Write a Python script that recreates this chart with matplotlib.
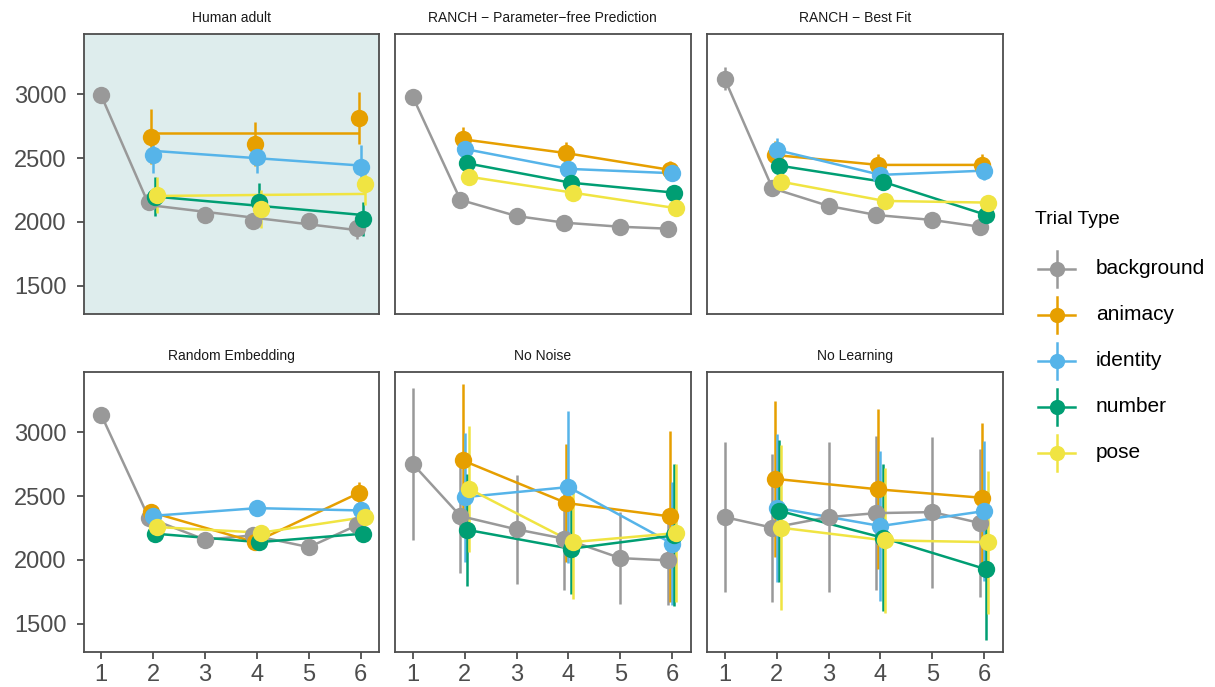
import matplotlib
matplotlib.use("Agg")
import matplotlib.pyplot as plt
import numpy as np

plt.rcParams['font.family'] = ['Liberation Sans', 'DejaVu Sans']

W, H = 1215, 687

# ---------------- data ----------------
panel_titles = ["Human adult", "RANCH \u2212 Parameter\u2212free Prediction", "RANCH \u2212 Best Fit",
                "Random Embedding", "No Noise", "No Learning"]
trial_types = ["background", "animacy", "identity", "number", "pose"]
colors = ["#999999", "#E69F00", "#56B4E9", "#009E73", "#F0E442"]
x_background = [1, 2, 3, 4, 5, 6]
x_events = [2, 4, 6]
x_ticks = [1, 2, 3, 4, 5, 6]
y_ticks = [1500, 2000, 2500, 3000]

human_mean = {
    "background": [2990, 2158, 2054, 2004, 2008, 1950],
    "animacy": [2668, 2610, 2812],
    "identity": [2524, 2511, 2433],
    "number": [2198, 2154, 2023],
    "pose": [2211, 2101, 2295],
}
human_err = {
    "background": [40, 50, 35, 45, 40, 86],
    "animacy": [215, 170, 205],
    "identity": [143, 130, 165],
    "number": [150, 153, 131],
    "pose": [140, 150, 163],
}
# model-fit lines drawn in the human panel
human_fit_x_background = [1, 2, 6]
human_fit_x_events = [2, 6]
human_fit = {
    "background": [2990, 2132, 1936],
    "animacy": [2694, 2694],
    "identity": [2556, 2441],
    "number": [2198, 2054],
    "pose": [2203, 2219],
}

ranch_pf_mean = {
    "background": [2981, 2172, 2046, 1994, 1962, 1947],
    "animacy": [2647, 2538, 2407],
    "identity": [2571, 2415, 2381],
    "number": [2459, 2307, 2229],
    "pose": [2354, 2229, 2107],
}
ranch_pf_err = {
    "background": [30, 30, 30, 30, 30, 30],
    "animacy": [95, 90, 70],
    "identity": [50, 45, 45],
    "number": [40, 40, 40],
    "pose": [40, 40, 40],
}

ranch_bf_mean = {
    "background": [3120, 2263, 2125, 2054, 2015, 1962],
    "animacy": [2524, 2446, 2446],
    "identity": [2563, 2368, 2401],
    "number": [2441, 2315, 2054],
    "pose": [2315, 2164, 2151],
}
ranch_bf_err = {
    "background": [90, 35, 30, 30, 30, 30],
    "animacy": [110, 85, 85],
    "identity": [90, 50, 70],
    "number": [40, 40, 40],
    "pose": [40, 40, 40],
}

random_mean = {
    "background": [3136, 2327, 2158, 2192, 2100, 2270],
    "animacy": [2374, 2139, 2523],
    "identity": [2345, 2405, 2387],
    "number": [2205, 2139, 2205],
    "pose": [2257, 2213, 2335],
}
random_err = {
    "background": [60, 40, 30, 30, 30, 40],
    "animacy": [40, 40, 85],
    "identity": [30, 30, 30],
    "number": [30, 30, 30],
    "pose": [30, 30, 30],
}

nonoise_mean = {
    "background": [2752, 2343, 2239, 2166, 2014, 1996],
    "animacy": [2779, 2445, 2340],
    "identity": [2491, 2570, 2127],
    "number": [2236, 2087, 2192],
    "pose": [2557, 2139, 2210],
}
nonoise_err = {
    "background": [597, 445, 425, 405, 360, 350],
    "animacy": [597, 465, 670],
    "identity": [505, 595, 480],
    "number": [437, 350, 555],
    "pose": [492, 445, 543],
}

nolearn_mean = {
    "background": [2335, 2252, 2335, 2366, 2374, 2288],
    "animacy": [2635, 2552, 2486],
    "identity": [2408, 2265, 2382],
    "number": [2385, 2174, 1926],
    "pose": [2252, 2153, 2139],
}
nolearn_err = {
    "background": [590, 580, 590, 600, 590, 580],
    "animacy": [610, 625, 585],
    "identity": [577, 585, 550],
    "number": [555, 575, 550],
    "pose": [645, 570, 560],
}

panel_means = [human_mean, ranch_pf_mean, ranch_bf_mean, random_mean, nonoise_mean, nolearn_mean]
panel_errs = [human_err, ranch_pf_err, ranch_bf_err, random_err, nonoise_err, nolearn_err]

# ---------------- layout ----------------
fig = plt.figure(figsize=(W / 100, H / 100), dpi=100)

col_left = [83.5, 395, 707]
col_width = 295.5
row_top = [34.3, 372.3]
row_height = 280

dodge_width = 0.2
n_groups = len(trial_types)
offsets = {t: (i - (n_groups - 1) / 2) * dodge_width / n_groups for i, t in enumerate(trial_types)}
single_x = {1, 3, 5}


def dodged(xs, t):
    return [x if (t == "background" and x in single_x) else x + offsets[t] for x in xs]


axes = []
for k in range(6):
    r, c = divmod(k, 3)
    left = col_left[c] / W
    bottom = 1 - (row_top[r] + row_height) / H
    ax = fig.add_axes([left, bottom, col_width / W, row_height / H])
    axes.append(ax)

LW = 1.8
for k, ax in enumerate(axes):
    r, c = divmod(k, 3)
    means = panel_means[k]
    errs = panel_errs[k]
    if k == 0:
        ax.set_facecolor("#DEEDED")
    # error bars
    for t, col in zip(trial_types, colors):
        xs = x_background if t == "background" else x_events
        ax.errorbar(dodged(xs, t), means[t], yerr=errs[t], fmt="none", ecolor=col,
                    elinewidth=LW, capsize=0, zorder=2)
    # lines
    for t, col in zip(trial_types, colors):
        if k == 0:
            xs = human_fit_x_background if t == "background" else human_fit_x_events
            ax.plot(dodged(xs, t), human_fit[t], color=col, lw=LW, zorder=3,
                    solid_capstyle="butt")
        else:
            xs = x_background if t == "background" else x_events
            ax.plot(dodged(xs, t), means[t], color=col, lw=LW, zorder=3)
    # points
    for t, col in zip(trial_types, colors):
        xs = x_background if t == "background" else x_events
        ax.plot(dodged(xs, t), means[t], "o", color=col, ms=12.5, mec="none", zorder=4)

    ax.set_xlim(0.66, 6.35)
    ax.set_ylim(1277, 3468)
    ax.set_xticks(x_ticks)
    ax.set_yticks(y_ticks)
    for s in ax.spines.values():
        s.set_color("#4D4D4D")
        s.set_linewidth(1.3)
    ax.tick_params(axis="both", colors="#4D4D4D", width=1.3, length=5,
                   labelsize=17, labelcolor="#4D4D4D")
    ax.tick_params(axis="y", pad=7)
    ax.tick_params(axis="x", pad=3.5)
    if c != 0:
        ax.tick_params(axis="y", left=False, labelleft=False)
    if r == 0:
        ax.tick_params(axis="x", bottom=False, labelbottom=False)
    ax.set_title(panel_titles[k], fontsize=10, color="#1A1A1A", pad=9)

# ---------------- legend (manual) ----------------
lax = fig.add_axes([0, 0, 1, 1], facecolor="none")
lax.set_xlim(0, W)
lax.set_ylim(H, 0)
lax.axis("off")
lax.text(1035, 220, "Trial Type", fontsize=14, color="black", va="center", ha="left")
for i, (t, col) in enumerate(zip(trial_types, colors)):
    yc = 269 + i * 46
    lax.plot([1038, 1075], [yc, yc], color=col, lw=LW)
    lax.plot([1056.5, 1056.5], [yc - 18, yc + 18], color=col, lw=LW)
    lax.plot([1056.5], [yc], "o", color=col, ms=11, mec="none")
    lax.text(1096, yc, t, fontsize=15, color="black", va="center", ha="left")

fig.savefig("out.png", dpi=100)
